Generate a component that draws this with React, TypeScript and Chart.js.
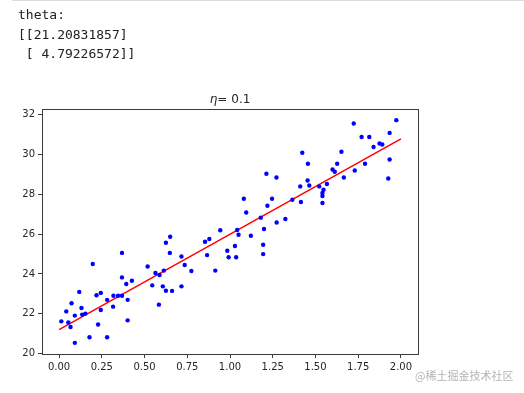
import React, { useEffect, useRef } from "react";
import { Chart, registerables } from "chart.js";

Chart.register(...registerables);

const xValues = [
  0.013, 0.042, 0.054, 0.067, 0.073, 0.092, 0.092, 0.118, 0.131, 0.135,
  0.154, 0.178, 0.197, 0.219, 0.228, 0.244, 0.244, 0.281, 0.281, 0.316,
  0.318, 0.345, 0.368, 0.368, 0.368, 0.393, 0.401, 0.401, 0.426, 0.518,
  0.545, 0.564, 0.588, 0.584, 0.607, 0.613, 0.625, 0.625, 0.648, 0.650,
  0.661, 0.716, 0.716, 0.735, 0.774, 0.854, 0.879, 0.866, 0.914, 0.943,
  0.984, 0.992, 1.029, 1.036, 1.042, 1.050, 1.081, 1.095, 1.122, 1.180,
  1.194, 1.194, 1.199, 1.213, 1.219, 1.246, 1.272, 1.273, 1.324, 1.365,
  1.411, 1.415, 1.423, 1.456, 1.454, 1.464, 1.522, 1.547, 1.541, 1.541,
  1.541, 1.567, 1.600, 1.613, 1.627, 1.652, 1.666, 1.724, 1.730, 1.770,
  1.790, 1.815, 1.840, 1.875, 1.891, 1.926, 1.934, 1.934, 1.973,
];

const yValues = [
  21.62, 22.12, 21.56, 21.34, 22.53, 21.91, 20.54, 23.10, 22.29, 21.96,
  22.01, 20.82, 24.50, 22.93, 21.46, 23.05, 22.19, 22.70, 20.82, 22.36,
  22.91, 22.91, 25.06, 23.83, 22.91, 23.50, 22.70, 21.67, 23.66, 24.38,
  23.43, 24.05, 23.95, 22.46, 23.38, 24.17, 23.16, 25.57, 25.06, 25.87,
  23.15, 24.88, 23.38, 24.45, 24.15, 25.62, 25.76, 24.95, 24.17, 26.20,
  25.17, 24.84, 25.41, 24.84, 26.21, 25.97, 27.78, 27.09, 25.92, 26.83,
  25.47, 25.00, 26.26, 29.04, 27.43, 27.78, 28.85, 26.59, 26.76, 27.73,
  28.40, 27.62, 30.09, 29.54, 28.70, 28.45, 28.40, 28.23, 28.07, 27.92,
  27.57, 28.52, 29.25, 29.14, 29.54, 30.14, 28.85, 31.56, 29.20, 30.88,
  29.54, 30.88, 30.38, 30.56, 30.51, 28.80, 31.09, 29.75, 31.73,
];

const lineX = [0, 2];
const lineY = [21.20831857, 30.79285001];

const xTicks = [0, 0.25, 0.5, 0.75, 1.0, 1.25, 1.5, 1.75, 2.0];
const yTicks = [20, 22, 24, 26, 28, 30, 32];

const thetaText = "theta:\n[[21.20831857]\n [ 4.79226572]]";
const titleSymbol = "η";
const titleRest = "0.1";
const watermark = "@稀土掘金技术社区";

const SPINE = "#3c3c3c";
const TEXT = "#262626";

const framePlugin = {
  id: "frame",
  afterDraw(chart: any) {
    const { ctx, chartArea } = chart;
    const { left, right, top, bottom } = chartArea;
    ctx.save();
    ctx.strokeStyle = SPINE;
    ctx.lineWidth = 1;
    ctx.strokeRect(Math.round(left) + 0.5, Math.round(top) + 0.5, Math.round(right - left), Math.round(bottom - top));
    // title (mathtext style): italic eta, '=', value
    const cx = (left + right) / 2;
    const by = top - 6;
    ctx.fillStyle = TEXT;
    ctx.textBaseline = "alphabetic";
    ctx.textAlign = "left";
    const fItal = "oblique 12px 'DejaVu Sans'";
    const fReg = "12px 'DejaVu Sans'";
    ctx.font = fItal;
    const wSym = ctx.measureText(titleSymbol).width;
    ctx.font = fReg;
    const wEq = ctx.measureText("=").width;
    const wVal = ctx.measureText(titleRest).width;
    const gap1 = 0;
    const gap2 = 4;
    const total = wSym + gap1 + wEq + gap2 + wVal;
    let x = cx - total / 2;
    ctx.font = fItal;
    ctx.fillText(titleSymbol, x, by);
    x += wSym + gap1;
    ctx.font = fReg;
    ctx.fillText("=", x, by);
    x += wEq + gap2;
    ctx.fillText(titleRest, x, by);
    ctx.restore();
  },
};

export default function App() {
  const ref = useRef<HTMLCanvasElement | null>(null);

  useEffect(() => {
    if (!ref.current) return;
    const chart = new Chart(ref.current, {
      type: "scatter",
      data: {
        datasets: [
          {
            label: "data",
            data: xValues.map((x, i) => ({ x, y: yValues[i] })),
            backgroundColor: "#0000ff",
            borderColor: "#0000ff",
            borderWidth: 0,
            pointRadius: 2.2,
            order: 0,
          } as any,
          {
            type: "line",
            label: "prediction",
            data: lineX.map((x, i) => ({ x, y: lineY[i] })),
            borderColor: "#ff0000",
            borderWidth: 1.5,
            pointRadius: 0,
            showLine: true,
            fill: false,
            order: 1,
          } as any,
        ],
      },
      options: {
        responsive: false,
        animation: false,
        devicePixelRatio: 1,
        layout: { padding: { left: 0, right: 106, top: 109, bottom: 0 } },
        plugins: {
          legend: { display: false },
          tooltip: { enabled: false },
          title: { display: false },
        },
        scales: {
          x: {
            type: "linear",
            min: -0.1,
            max: 2.1,
            afterBuildTicks: (s: any) => {
              s.ticks = xTicks.map((v) => ({ value: v }));
            },
            afterFit: (s: any) => {
              s.height = 39;
            },
            ticks: {
              callback: (v: any) => Number(v).toFixed(2),
              font: { family: "'DejaVu Sans'", size: 10 },
              color: TEXT,
              padding: 3,
              maxRotation: 0,
              autoSkip: false,
            },
            grid: {
              drawOnChartArea: false,
              drawTicks: true,
              tickLength: 4,
              tickColor: SPINE,
              color: SPINE,
            },
            border: { display: false },
          },
          y: {
            type: "linear",
            min: 19.98,
            max: 32.29,
            afterBuildTicks: (s: any) => {
              s.ticks = yTicks.map((v) => ({ value: v }));
            },
            afterFit: (s: any) => {
              s.width = 42;
            },
            ticks: {
              callback: (v: any) => String(v),
              font: { family: "'DejaVu Sans'", size: 10 },
              color: TEXT,
              padding: 3,
              autoSkip: false,
            },
            grid: {
              drawOnChartArea: false,
              drawTicks: true,
              tickLength: 4,
              tickColor: SPINE,
              color: SPINE,
            },
            border: { display: false },
          },
        },
      },
      plugins: [framePlugin],
    });
    return () => chart.destroy();
  }, []);

  return (
    <div style={{ position: "absolute", left: 0, top: 0, width: 524, height: 393, background: "#fff", overflow: "hidden" }}>
      <div style={{ position: "absolute", left: 12, top: 0, right: 0, height: 1, background: "#dcdcdc" }} />
      <canvas ref={ref} width={524} height={393} style={{ position: "absolute", left: 0, top: 0, width: 524, height: 393 }} />
      <pre
        style={{
          position: "absolute",
          left: 18,
          top: 5,
          margin: 0,
          fontFamily: "'DejaVu Sans Mono', monospace",
          fontSize: 13,
          lineHeight: "19.5px",
          color: "#212121",
        }}
      >
        {thetaText}
      </pre>
      <div
        style={{
          position: "absolute",
          left: 415,
          top: 367,
          fontFamily: "'Noto Sans CJK SC', sans-serif",
          fontSize: 11,
          lineHeight: "16px",
          color: "#b4b4b4",
          whiteSpace: "nowrap",
        }}
      >
        {watermark}
      </div>
    </div>
  );
}
